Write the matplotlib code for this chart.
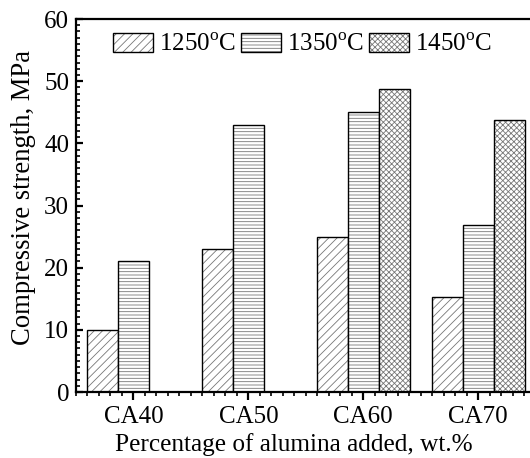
import numpy as np
import matplotlib.pyplot as plt
from matplotlib.patches import Patch
from matplotlib.legend_handler import HandlerTuple
from matplotlib.ticker import MultipleLocator

plt.rcParams['font.family'] = ['Liberation Serif', 'DejaVu Serif']
plt.rcParams['mathtext.fontset'] = 'custom'
plt.rcParams['mathtext.rm'] = 'Liberation Serif'
plt.rcParams['hatch.linewidth'] = 0.6

categories = ['CA40', 'CA50', 'CA60', 'CA70']
temps = ['1250$^\\mathrm{o}$C', '1350$^\\mathrm{o}$C', '1450$^\\mathrm{o}$C']
s1250 = [10.0, 23.0, 25.0, 15.3]
s1350 = [21.0, 43.0, 45.0, 26.8]
s1450 = [np.nan, np.nan, 48.7, 43.7]
hatches = ['////', '-----', 'xxxxxx']

fig = plt.figure(figsize=(5.30, 4.58), dpi=100)
ax = fig.add_axes([0.1434, 0.1441, 0.867, 0.8144])

x = np.arange(1, len(categories) + 1)
w = 0.27
handles = []
for i, (vals, h) in enumerate(zip([s1250, s1350, s1450], hatches)):
    vals = np.array(vals)
    m = ~np.isnan(vals)
    pos = x[m] + (i - 1) * w
    # hatch layer in grey, outline drawn on top in black
    ax.bar(pos, vals[m], w, color='white', edgecolor='#777777', hatch=h, linewidth=0)
    ax.bar(pos, vals[m], w, color='none', edgecolor='black', linewidth=1.0)
    ph = Patch(facecolor='white', edgecolor='#777777', hatch=h, linewidth=0)
    pe = Patch(facecolor='none', edgecolor='black', linewidth=1.0)
    handles.append((ph, pe))

ax.set_xlim(0.5, 4.5)
ax.set_ylim(0, 60)
ax.set_xticks(x)
ax.set_xticklabels(categories)
ax.xaxis.set_minor_locator(MultipleLocator(0.1))
ax.yaxis.set_major_locator(MultipleLocator(10))
ax.yaxis.set_minor_locator(MultipleLocator(1))

for s in ax.spines.values():
    s.set_linewidth(1.6)

ax.tick_params(axis='y', which='major', direction='in', length=5, width=1.6, labelsize=18, pad=5)
ax.tick_params(axis='y', which='minor', direction='in', length=3, width=1.2)
ax.tick_params(axis='x', which='major', direction='out', length=6, width=1.6, labelsize=18, pad=4)
ax.tick_params(axis='x', which='minor', direction='out', length=3, width=1.2)

ax.set_xlabel('Percentage of alumina added, wt.%', fontsize=18.2, labelpad=4)
ax.set_ylabel('Compressive strength, MPa', fontsize=19.2, labelpad=6)
ax.xaxis.label.set_x(0.474)
ax.yaxis.label.set_y(0.521)

ax.legend(handles, temps, handler_map={tuple: HandlerTuple(ndivide=1)},
          loc='upper left', bbox_to_anchor=(0.05, 1.0), ncol=3, frameon=False,
          fontsize=18, handlelength=1.6, handleheight=0.8,
          handletextpad=0.25, columnspacing=0.2, borderaxespad=0.15)

fig.savefig('out.png', dpi=100)
